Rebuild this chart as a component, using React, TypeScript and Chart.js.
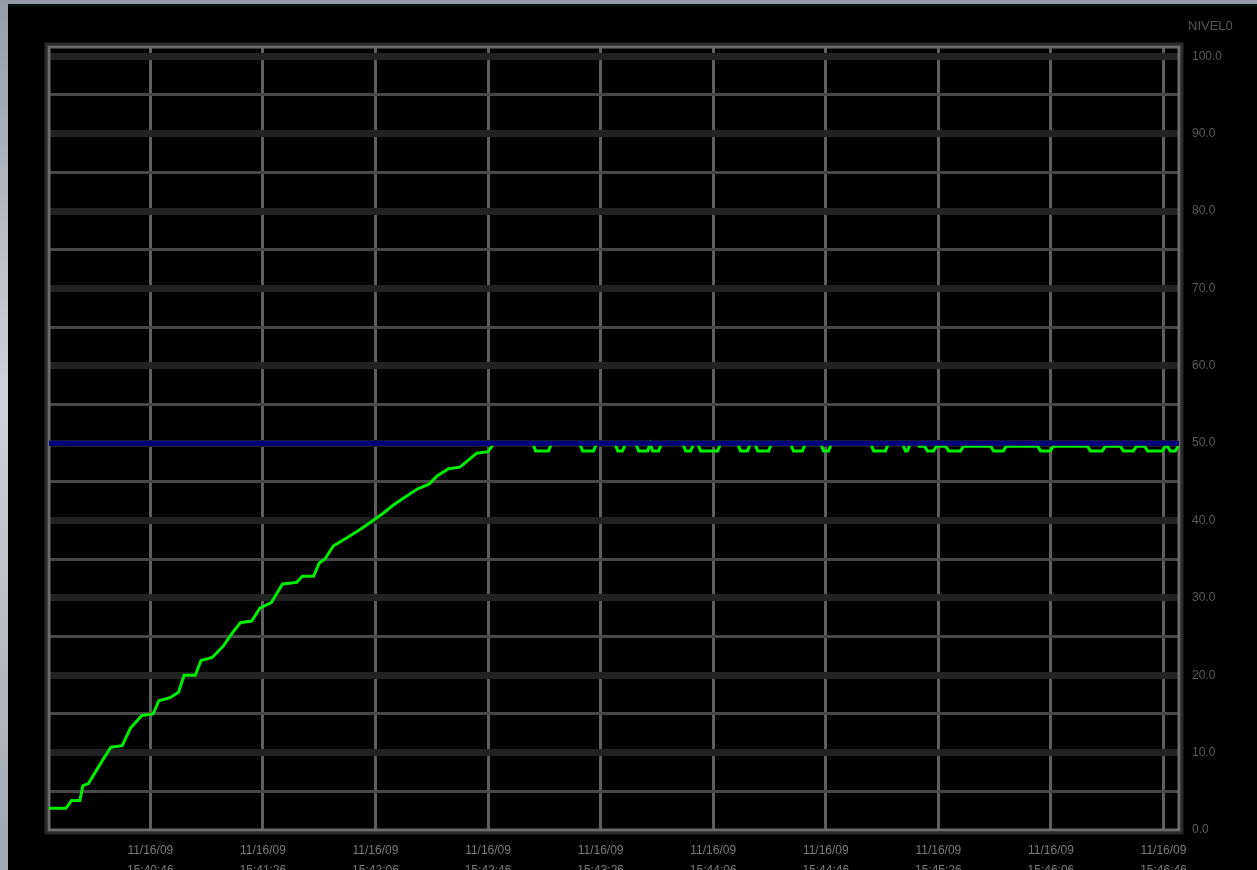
import { useEffect, useRef } from 'react';
import { Chart, registerables } from 'chart.js';

Chart.register(...registerables);

// ---- data ----
// x axis: seconds after 15:40:00 on 11/16/09
const X_MIN = 10;
const X_MAX = 411.5;
const TICK_SECONDS = [46, 86, 126, 166, 206, 246, 286, 326, 366, 406];
const TICK_DATES = ['11/16/09', '11/16/09', '11/16/09', '11/16/09', '11/16/09', '11/16/09', '11/16/09', '11/16/09', '11/16/09', '11/16/09'];
const TICK_TIMES = ['15:40:46', '15:41:26', '15:42:06', '15:42:46', '15:43:26', '15:44:06', '15:44:46', '15:45:26', '15:46:06', '15:46:46'];

const Y_TICKS = [0, 5, 10, 15, 20, 25, 30, 35, 40, 45, 50, 55, 60, 65, 70, 75, 80, 85, 90, 95, 100];
const Y_TITLE = 'NIVEL0';

// set point (blue)
const SP_TIMES = [10, 411.5];
const SP_VALUES = [50, 50];

// measured level (green)
const LEVEL_TIMES = [
  10, 16, 18, 21, 22, 24, 29, 32, 36, 39, 43, 47, 49, 53, 56, 58, 62, 64, 68, 72,
  75, 78, 82, 85, 89, 93, 98, 100, 104, 106, 108, 111, 116, 120, 124, 129, 132, 136, 141, 145,
  148, 152, 156, 159, 162, 166, 168,
  181.9, 182.9, 187.5, 188.5,
  198.6, 199.6, 203.5, 204.5,
  211.1, 212.1, 213.8, 214.8,
  218.5, 219.5, 222.7, 223.6, 224.5, 226.6, 227.6,
  235.2, 236.2, 238.0, 239.0,
  240.5, 241.5, 247.6, 248.6,
  254.7, 255.7, 258.2, 259.2,
  260.8, 261.8, 265.7, 266.7,
  273.5, 274.5, 277.7, 278.7,
  284.2, 285.2, 287.0, 288.0,
  302.0, 303.0, 307.2, 308.2,
  313.3, 314.3, 315.0, 316.0,
  318.9, 319.2,
  321.1, 322.1, 324.3, 325.3,
  328.6, 329.6, 333.9, 334.9,
  344.6, 345.6, 349.1, 350.1,
  361.3, 362.3, 365.8, 366.8,
  379.0, 380.0, 384.3, 385.3,
  390.7, 391.7, 395.3, 396.3,
  399.3, 400.3, 405.6, 406.6,
  407.4, 408.4, 410.2, 411.2,
];
const LEVEL_VALUES = [
  2.8, 2.8, 3.8, 3.8, 5.7, 6.0, 9.0, 10.7, 10.9, 13.2, 14.8, 15.0, 16.7, 17.1, 17.8, 20.0, 20.0, 21.9, 22.3, 23.8,
  25.4, 26.8, 27.0, 28.7, 29.4, 31.8, 32.0, 32.8, 32.8, 34.5, 35.0, 36.7, 37.8, 38.7, 39.7, 41.0, 41.9, 42.9, 44.1, 44.7,
  45.8, 46.7, 46.9, 47.8, 48.7, 48.9, 49.92,
  49.92, 49, 49, 49.92,
  49.92, 49, 49, 49.92,
  49.92, 49, 49, 49.92,
  49.92, 49, 49, 49.92, 49, 49, 49.92,
  49.92, 49, 49, 49.92,
  49.92, 49, 49, 49.92,
  49.92, 49, 49, 49.92,
  49.92, 49, 49, 49.92,
  49.92, 49, 49, 49.92,
  49.92, 49, 49, 49.92,
  49.92, 49, 49, 49.92,
  49.92, 49, 49, 49.92,
  49.92, 49.6,
  49.6, 49, 49, 49.6,
  49.6, 49, 49, 49.6,
  49.6, 49, 49, 49.6,
  49.6, 49, 49, 49.6,
  49.6, 49, 49, 49.6,
  49.6, 49, 49, 49.6,
  49.6, 49, 49, 49.6,
  49.6, 49, 49, 49.6,
];

const FONT = '"Liberation Sans", Arial, sans-serif';

const framePlugin = {
  id: 'frame',
  beforeDatasetsDraw(chart: any) {
    const { ctx, chartArea: a } = chart;
    ctx.save();
    ctx.lineWidth = 3;
    ctx.strokeStyle = '#2a2a2a';
    ctx.strokeRect(a.left - 3, a.top - 3, a.right - a.left + 6, a.bottom - a.top + 6);
    ctx.strokeStyle = '#6c6c6c';
    ctx.strokeRect(a.left, a.top, a.right - a.left, a.bottom - a.top);
    ctx.restore();
  },
};

export default function App() {
  const ref = useRef<HTMLCanvasElement>(null);

  useEffect(() => {
    const canvas = ref.current!;
    const chart = new Chart(canvas, {
      type: 'line',
      data: {
        datasets: [
          {
            label: 'SP',
            data: SP_TIMES.map((t, i) => ({ x: t, y: SP_VALUES[i] })),
            borderColor: '#00007e',
            borderWidth: 5,
            pointRadius: 0,
            tension: 0,
          },
          {
            label: Y_TITLE,
            data: LEVEL_TIMES.map((t, i) => ({ x: t, y: LEVEL_VALUES[i] })),
            borderColor: '#00ee00',
            borderWidth: 3,
            pointRadius: 0,
            tension: 0,
          },
        ],
      },
      options: {
        animation: false,
        responsive: false,
        devicePixelRatio: 1,
        layout: { padding: { left: 41, top: 43, right: 0, bottom: 0 } },
        plugins: { legend: { display: false }, tooltip: { enabled: false } },
        scales: {
          x: {
            type: 'linear',
            min: X_MIN,
            max: X_MAX,
            afterBuildTicks: (s: any) => {
              s.ticks = TICK_SECONDS.map((v) => ({ value: v }));
            },
            afterFit: (s: any) => {
              s.height = 40;
            },
            grid: { color: '#5e5e5e', lineWidth: 3, drawTicks: false },
            border: { display: false },
            ticks: {
              autoSkip: false,
              maxRotation: 0,
              padding: 10,
              color: '#7a7a7a',
              font: { family: FONT, size: 12, lineHeight: 1.7 },
              callback: (_v: any, i: number) => [TICK_DATES[i], TICK_TIMES[i]],
            },
          },
          y: {
            position: 'right',
            min: 0,
            max: 101.2,
            afterBuildTicks: (s: any) => {
              s.ticks = Y_TICKS.map((v) => ({ value: v }));
            },
            afterFit: (s: any) => {
              s.width = 78;
            },
            grid: {
              drawTicks: false,
              color: (c: any) => {
                const v = c.tick ? c.tick.value : 0;
                if (v === 0) return 'rgba(0,0,0,0)';
                return v % 10 === 0 ? '#222222' : '#484848';
              },
              lineWidth: (c: any) => {
                const v = c.tick ? c.tick.value : 0;
                return v % 10 === 0 ? 7 : 3;
              },
            },
            border: { display: false },
            ticks: {
              padding: 13,
              color: '#5a5a5a',
              font: { family: FONT, size: 12 },
              callback: (v: any) => (Number(v) % 10 === 0 ? Number(v).toFixed(1) : ''),
            },
          },
        },
      },
      plugins: [framePlugin],
    } as any);
    return () => chart.destroy();
  }, []);

  return (
    <div
      style={{
        position: 'fixed',
        left: 0,
        top: 0,
        width: 1257,
        height: 870,
        background: 'linear-gradient(180deg, #959ca8 0%, #cfd2d8 45%, #a0a6b0 100%)',
        overflow: 'hidden',
      }}
    >
      <div
        style={{
          position: 'absolute',
          left: 8,
          top: 4,
          width: 1249,
          height: 866,
          background: '#000',
          borderTop: '3px solid #051011',
          boxSizing: 'border-box',
        }}
      />
      <canvas
        ref={ref}
        width={1249}
        height={866}
        style={{ position: 'absolute', left: 8, top: 4, width: 1249, height: 866 }}
      />
      <div
        style={{
          position: 'absolute',
          left: 1188,
          top: 18,
          fontFamily: FONT,
          fontSize: 13,
          color: '#555',
          lineHeight: '16px',
        }}
      >
        {Y_TITLE}
      </div>
    </div>
  );
}
